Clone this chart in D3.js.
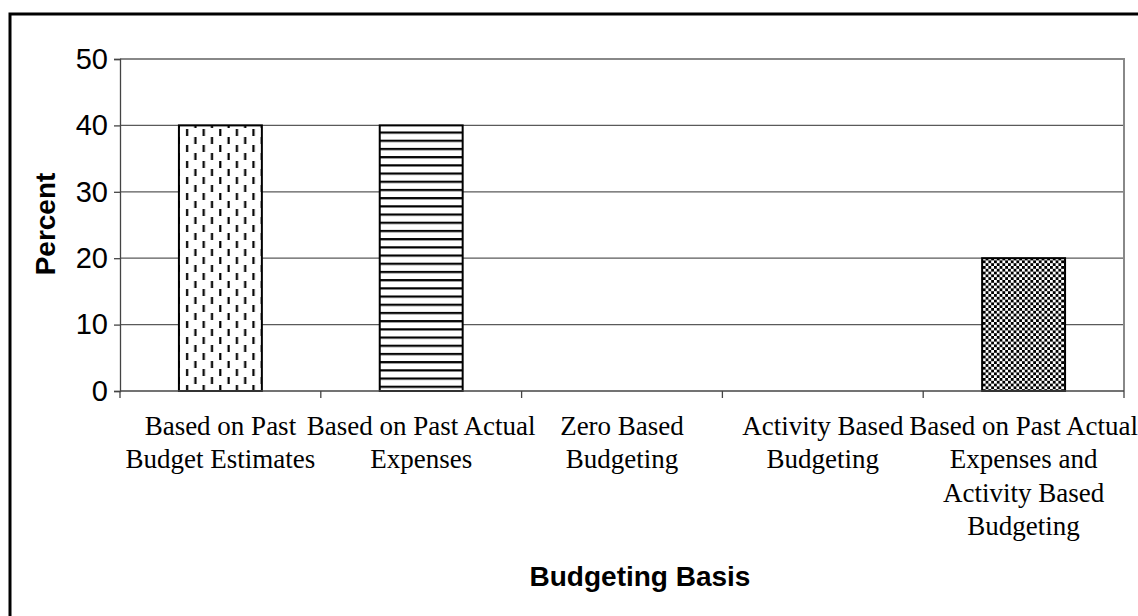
<!DOCTYPE html>
<html>
<head>
<meta charset="utf-8">
<script src="https://cdn.jsdelivr.net/npm/d3@7"></script>
<style>
  html, body { margin: 0; padding: 0; background: #fff; }
  svg { display: block; }
</style>
</head>
<body>
<svg id="chart" width="1138" height="616"></svg>
<script>
// Budgeting basis survey results (percent of respondents)
const categories = [
  "Based on Past Budget Estimates",
  "Based on Past Actual Expenses",
  "Zero Based Budgeting",
  "Activity Based Budgeting",
  "Based on Past Actual Expenses and Activity Based Budgeting"
];
const categoryLines = [
  ["Based on Past", "Budget Estimates"],
  ["Based on Past Actual", "Expenses"],
  ["Zero Based", "Budgeting"],
  ["Activity Based", "Budgeting"],
  ["Based on Past Actual", "Expenses and", "Activity Based", "Budgeting"]
];
const percentValues = [40, 40, 0, 0, 20];
const yTicks = [0, 10, 20, 30, 40, 50];
const fillPatterns = ["dashes", "hlines", "checks", "checks", "checks"];

const svg = d3.select("#chart");
const W = 1138, H = 616;
const plot = { left: 120, right: 1124, top: 59, bottom: 391 };

// hatch patterns for the bars
const defs = svg.append("defs");
const pDash = defs.append("pattern").attr("id", "dashes")
  .attr("patternUnits", "userSpaceOnUse").attr("width", 16.6).attr("height", 16)
  .attr("x", 181).attr("y", 0);
pDash.append("rect").attr("width", 16.6).attr("height", 16).attr("fill", "#fff");
pDash.append("rect").attr("x", 5).attr("y", 1).attr("width", 2.2).attr("height", 7).attr("fill", "#000");
pDash.append("rect").attr("x", 13.3).attr("y", 9).attr("width", 2.2).attr("height", 7).attr("fill", "#000");

const pH = defs.append("pattern").attr("id", "hlines")
  .attr("patternUnits", "userSpaceOnUse").attr("width", 10).attr("height", 8.2)
  .attr("x", 0).attr("y", 126);
pH.append("rect").attr("width", 10).attr("height", 8.2).attr("fill", "#fff");
pH.append("rect").attr("y", 5.5).attr("width", 10).attr("height", 2.2).attr("fill", "#000");

const pC = defs.append("pattern").attr("id", "checks")
  .attr("patternUnits", "userSpaceOnUse").attr("width", 5.6).attr("height", 5.6);
pC.append("rect").attr("width", 5.6).attr("height", 5.6).attr("fill", "#fff");
pC.append("rect").attr("width", 2.8).attr("height", 2.8).attr("fill", "#000");
pC.append("rect").attr("x", 2.8).attr("y", 2.8).attr("width", 2.8).attr("height", 2.8).attr("fill", "#000");

// outer frame
svg.append("rect").attr("x", 10).attr("y", 14).attr("width", W).attr("height", H)
  .attr("fill", "none").attr("stroke", "#000").attr("stroke-width", 3);

const x = d3.scaleBand().domain(categories).range([plot.left, plot.right])
  .paddingInner(0.587).paddingOuter(0.2935);
const y = d3.scaleLinear().domain([0, 50]).range([plot.bottom, plot.top]);

// gridlines and plot border
svg.append("g").selectAll("line").data(yTicks.filter(d => d > 0 && d < 50)).join("line")
  .attr("x1", plot.left).attr("x2", plot.right)
  .attr("y1", d => y(d)).attr("y2", d => y(d))
  .attr("stroke", "#5a5a5a").attr("stroke-width", 1.3);
svg.append("path")
  .attr("d", `M${plot.left},${plot.top}H${plot.right}V${plot.bottom}`)
  .attr("fill", "none").attr("stroke", "#888").attr("stroke-width", 2);

// bars
svg.append("g").selectAll("rect").data(categories).join("rect")
  .attr("x", d => x(d)).attr("width", x.bandwidth())
  .attr("y", (d, i) => y(percentValues[i]))
  .attr("height", (d, i) => y(0) - y(percentValues[i]))
  .attr("fill", (d, i) => `url(#${fillPatterns[i]})`)
  .attr("stroke", "#000").attr("stroke-width", 2)
  .style("display", (d, i) => percentValues[i] > 0 ? null : "none");

// y axis
const yAxis = d3.axisLeft(y).tickValues(yTicks).tickSize(6).tickPadding(6);
const gy = svg.append("g").attr("transform", `translate(${plot.left},0)`).call(yAxis);
gy.selectAll("path, line").attr("stroke", "#444").attr("stroke-width", 1.3);
gy.selectAll("text").attr("font-family", "Liberation Sans, Arial, sans-serif")
  .attr("font-size", 29).attr("fill", "#000");

// x axis: ticks sit on category boundaries
const boundaries = d3.range(categories.length + 1).map(i => plot.left + i * x.step());
const gx = svg.append("g");
gx.append("line").attr("x1", plot.left).attr("x2", plot.right)
  .attr("y1", plot.bottom).attr("y2", plot.bottom)
  .attr("stroke", "#444").attr("stroke-width", 1.3);
gx.selectAll("line.tick").data(boundaries).join("line").attr("class", "tick")
  .attr("x1", d => d).attr("x2", d => d)
  .attr("y1", plot.bottom).attr("y2", plot.bottom + 7)
  .attr("stroke", "#444").attr("stroke-width", 1.3);

// category labels
const lbl = gx.selectAll("text.cat").data(categories).join("text").attr("class", "cat")
  .attr("text-anchor", "middle")
  .attr("font-family", "Liberation Serif, Times New Roman, serif")
  .attr("font-size", 27).attr("fill", "#000");
lbl.each(function (d, i) {
  const cx = x(d) + x.bandwidth() / 2;
  d3.select(this).selectAll("tspan").data(categoryLines[i]).join("tspan")
    .attr("x", cx).attr("y", (t, j) => 435 + j * 33.3).text(t => t);
});

// axis titles
svg.append("text").attr("x", 640).attr("y", 586).attr("text-anchor", "middle")
  .attr("font-family", "Liberation Sans, Arial, sans-serif").attr("font-weight", "bold")
  .attr("font-size", 28).text("Budgeting Basis");
svg.append("text").attr("transform", "translate(55,224) rotate(-90)")
  .attr("text-anchor", "middle")
  .attr("font-family", "Liberation Sans, Arial, sans-serif").attr("font-weight", "bold")
  .attr("font-size", 28).text("Percent");
</script>
</body>
</html>
